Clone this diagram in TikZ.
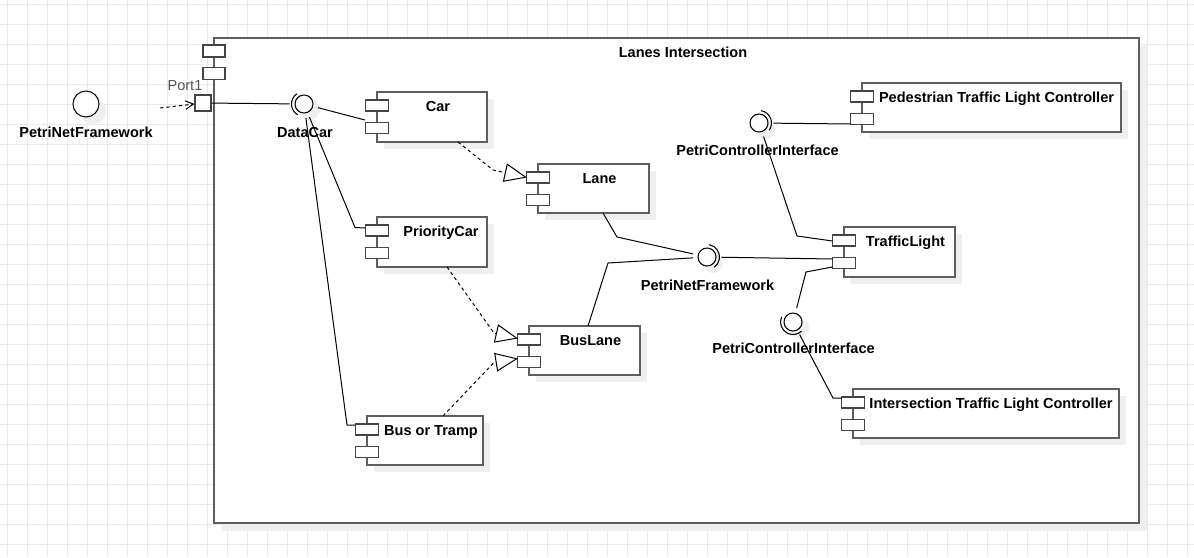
\documentclass[tikz,border=0pt]{standalone}
\usepackage{fontspec}
\setmainfont{Liberation Sans}
\usetikzlibrary{arrows.meta,shapes.geometric}
\definecolor{gridc}{HTML}{EAEAEA}
\definecolor{shadc}{HTML}{EFEFEF}
\definecolor{bordc}{HTML}{5E5E5E}
\definecolor{iconc}{HTML}{444444}
\definecolor{portc}{HTML}{555555}

\newcommand{\umlcomp}[7]{%
  \fill[shadc] (#2+7,#3+7) rectangle (#4+7,#5+7);
  \node[compbox, minimum width={(#4-#2)*0.75pt}, minimum height={(#5-#3)*0.75pt}] (#1) at ({(#2+#4)/2},{(#3+#5)/2}) {};
  \node[icon] (#1-a) at (#2,#3+13.5) {};
  \node[icon] (#1-b) at (#2,#3+36) {};
  \node[lbl] (#1-t) at ({(#2+#4)/2+#7},#3+19) {#6};
}
\newcommand{\lolli}[5]{%
  \fill[shadc] (#2+6,#3+6) circle[radius=10];
  \node[iface] (#1) at (#2,#3) {};
  \draw[ballc] (#1.center) circle[radius=9];
  \draw[line width=0.8pt] (#1.center) ++(#4:12.5) arc[start angle=#4, end angle=#5, radius=12.5];
}

\begin{document}
\begin{tikzpicture}[x=0.75pt,y=-0.75pt,
  compbox/.style={draw=bordc, line width=1pt, fill=white, rectangle, inner sep=0pt, outer sep=0pt},
  icon/.style={draw=iconc, line width=0.9pt, fill=white, rectangle, inner sep=0pt, minimum width=17.25pt, minimum height=8.25pt},
  bigicon/.style={icon, minimum width=16.5pt, minimum height=9pt},
  lbl/.style={font=\bfseries\fontsize{10.9}{13}\selectfont, inner sep=0pt, anchor=base},
  conn/.style={draw=black, line width=0.75pt},
  dep/.style={conn, dash pattern=on 2.5pt off 2.25pt},
  real/.style={dep, -{Triangle[open, length=17pt, width=14pt, line width=0.75pt]}},
  iface/.style={circle, minimum size=21pt, inner sep=0pt, draw=none},
  ballc/.style={draw=black, line width=0.8pt, fill=white}]

\useasboundingbox (0,0) rectangle (1194,557);
\fill[white] (0,0) rectangle (1194,557);
% grid
\foreach \i in {0,...,59} \draw[gridc, line width=0.75pt] (7+20*\i,0) -- (7+20*\i,557);
\foreach \j in {0,...,27} \draw[gridc, line width=0.75pt] (0,4+20*\j) -- (1194,4+20*\j);

% container
\fill[shadc] (222,46) rectangle (1147,531);
\node[draw=bordc, line width=1.3pt, fill=white, rectangle, inner sep=0pt, minimum width=693.75pt, minimum height=363.75pt] (li) at (676.5,280.5) {};
\node[bigicon] (li-a) at (214,51) {};
\node[bigicon] (li-b) at (214,73.5) {};
\node[lbl] (li-t) at (683,57) {Lanes Intersection};

% external interface
\fill[shadc] (93,111) circle[radius=13];
\node[circle, draw=black, line width=0.8pt, fill=white, minimum size=19.5pt, inner sep=0pt] (extpnf) at (86,104) {};
\node[lbl] (extpnf-t) at (86,137) {PetriNetFramework};

% port
\node[draw=iconc, line width=0.9pt, fill=white, rectangle, inner sep=0pt, minimum size=12pt] (port) at (203,103) {};
\node[font=\fontsize{10.9}{13}\selectfont, text=portc, inner sep=0pt, anchor=base] (port-t) at (185,90) {Port1};

% components
\umlcomp{car}{377}{92}{487}{142}{Car}{6}
\umlcomp{pc}{377}{217}{487}{267}{PriorityCar}{9}
\umlcomp{lane}{538}{164}{649}{213}{Lane}{6}
\umlcomp{bl}{529}{326}{640}{375}{BusLane}{6}
\umlcomp{bt}{367}{416}{483}{465}{Bus or Tramp}{6}
\umlcomp{ped}{862}{83}{1121}{132}{Pedestrian Traffic Light Controller}{5}
\umlcomp{tl}{844}{227}{955}{277}{TrafficLight}{6}
\umlcomp{itl}{853}{389}{1119}{438}{Intersection Traffic Light Controller}{5}

% interfaces
\lolli{dc}{304}{104}{-125}{-240}
\lolli{pciT}{759}{123}{-80}{35}
\lolli{pnf}{707}{257}{-80}{55}
\lolli{pciB}{793}{322}{-155}{-313}
\node[lbl] (dc-t) at (305,137) {DataCar};
\node[lbl] (pciT-t) at (757.5,155.5) {PetriControllerInterface};
\node[lbl] (pnf-t) at (707.5,290.5) {PetriNetFramework};
\node[lbl] (pciB-t) at (793.5,353.5) {PetriControllerInterface};

% connector ends
\coordinate (dstart) at (160,108);
\coordinate (car-p) at (365,120);
\coordinate (pc-p) at (365,228);
\coordinate (bt-p) at (355.5,425);
\coordinate (car-q) at (458,142);
\coordinate (lane-p) at (527,177.5);
\coordinate (pc-q) at (447,267);
\coordinate (bl-p1) at (518,338.5);
\coordinate (bt-q) at (443,416);
\coordinate (bl-p2) at (518,358.5);
\coordinate (lane-q) at (603,213);
\coordinate (bl-q) at (588,326);
\coordinate (tl-p1) at (832.5,241);
\coordinate (tl-p2) at (832.5,259);
\coordinate (tl-p3) at (832.5,267);
\coordinate (ped-p) at (850.5,124);
\coordinate (itl-p) at (841.5,398);

% connectors
\draw[dep, -{Straight Barb[length=6pt, width=6.5pt]}] (dstart) -- (port);
\draw[conn] (port) -- (dc);
\draw[conn] (dc) -- (car-p);
\draw[conn] (dc) -- (355,227.5) -- (pc-p);
\draw[conn] (dc) -- (347,425) -- (bt-p);
\draw[real] (car-q) -- (493,170) -- (lane-p);
\draw[real] (pc-q) -- (494,333) -- (bl-p1);
\draw[real] (bt-q) -- (494,362.5) -- (bl-p2);
\draw[conn] (lane-q) -- (617,237) -- (pnf);
\draw[conn] (bl-q) -- (608,263) -- (pnf);
\draw[conn] (pnf) -- (tl-p2);
\draw[conn] (tl-p1) -- (797,236) -- (pciT);
\draw[conn] (pciT) -- (ped-p);
\draw[conn] (tl-p3) -- (806,272) -- (pciB);
\draw[conn] (pciB) -- (833,398) -- (itl-p);
\end{tikzpicture}
\end{document}
